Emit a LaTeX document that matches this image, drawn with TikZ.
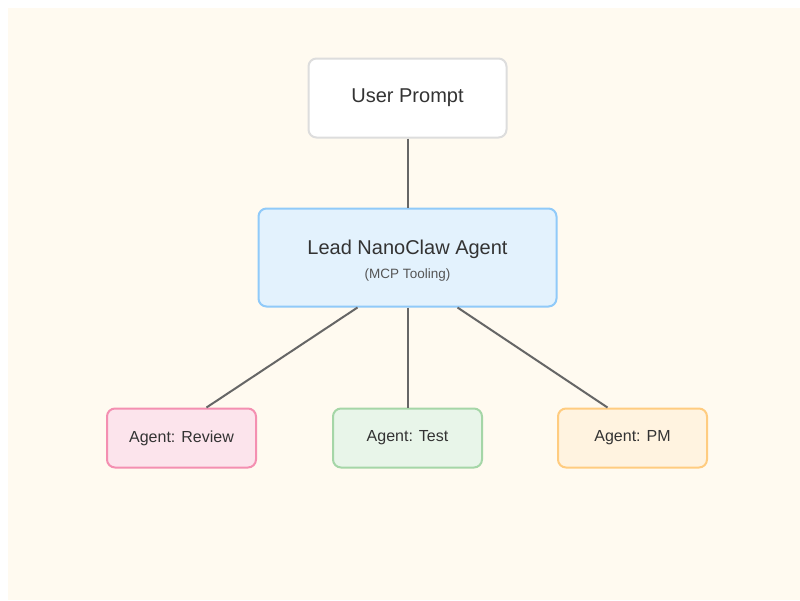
\documentclass[tikz,border=0pt]{standalone}
\usepackage{fontspec}
\setmainfont{Liberation Sans}
\usetikzlibrary{positioning}

\definecolor{bgcream}{HTML}{FFFAF0}
\definecolor{textdark}{HTML}{333333}
\definecolor{textsub}{HTML}{555555}
\definecolor{linkgray}{HTML}{666666}
\definecolor{promptline}{HTML}{DDDDDD}
\definecolor{leadfill}{HTML}{E3F2FD}
\definecolor{leadline}{HTML}{90CAF9}
\definecolor{reviewfill}{HTML}{FCE4EC}
\definecolor{reviewline}{HTML}{F48FB1}
\definecolor{testfill}{HTML}{E8F5E9}
\definecolor{testline}{HTML}{A5D6A7}
\definecolor{pmfill}{HTML}{FFF3E0}
\definecolor{pmline}{HTML}{FFCC80}

\tikzset{
  box/.style={draw, rounded corners=8pt, line width=2pt, inner sep=0pt,
    text=textdark, align=center},
  agent/.style={box, minimum width=149pt, minimum height=59pt,
    font=\fontsize{16}{19}\selectfont},
  link/.style={draw=linkgray, line width=2pt}
}

\begin{document}
\begin{tikzpicture}[x=1pt,y=-1pt]
  \useasboundingbox (0,0) rectangle (800,600);
  \fill[white] (0,0) rectangle (800,600);
  \fill[bgcream] (8,8) rectangle (800,600);

  \node (lead) [box, fill=leadfill, draw=leadline, minimum width=298pt,
    minimum height=98pt] at (407.5,257.5)
    {\rule{0pt}{20pt}{\fontsize{20}{24}\selectfont Lead NanoClaw Agent}\\[9pt]
     {\fontsize{13.5}{16}\selectfont\color{textsub}(MCP Tooling)}};
  \node (prompt) [box, fill=white, draw=promptline, minimum width=198pt,
    minimum height=79pt, font=\fontsize{20}{24}\selectfont,
    above=69pt of lead] {User Prompt};
  \node (test) [agent, fill=testfill, draw=testline,
    below=100pt of lead] {Agent: Test};
  \node (review) [agent, fill=reviewfill, draw=reviewline,
    left=75pt of test] {Agent: Review};
  \node (pm) [agent, fill=pmfill, draw=pmline,
    right=74pt of test] {Agent: PM};

  \path[link]
  (prompt) edge (lead)
  ([xshift=-50pt]lead.south) edge ([xshift=25pt]review.north)
  (lead) edge (test)
  ([xshift=50pt]lead.south) edge ([xshift=-25pt]pm.north);

\end{tikzpicture}
\end{document}
